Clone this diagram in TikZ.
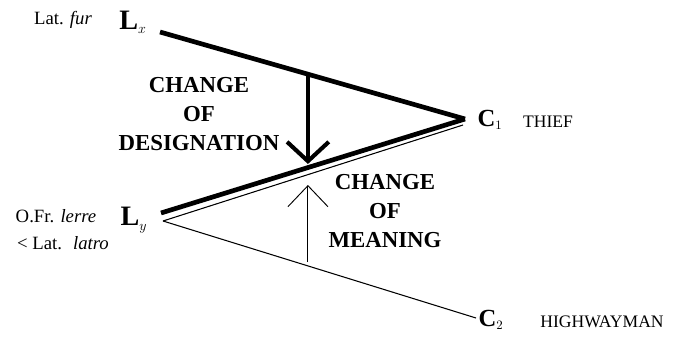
\documentclass[tikz,border=0pt]{standalone}
\usepackage{fontspec}
\setmainfont{Liberation Serif}
\usetikzlibrary{arrows.meta,positioning,calc}

\begin{document}
\begin{tikzpicture}[
  x=0.03cm, y=-0.03cm,
  lex/.style={font=\bfseries\fontsize{24}{24}\selectfont, inner sep=0pt},
  con/.style={font=\bfseries\fontsize{21}{21}\selectfont, inner sep=0pt},
  gloss/.style={font=\fontsize{16}{18}\selectfont, inner sep=0pt},
  sense/.style={font=\fontsize{15}{17}\selectfont, inner sep=0pt},
  change/.style={font=\bfseries\fontsize{19.5}{25}\selectfont, align=center, inner sep=0pt},
  heavy/.style={line width=4pt},
  light/.style={line width=0.9pt},
  desigarrow/.style={-{Straight Barb[length=0.58cm,width=1.25cm]}, line width=3.5pt},
  meanarrow/.style={-{Straight Barb[length=0.63cm,width=1.2cm]}, line width=0.8pt}
]
\useasboundingbox (0,0) rectangle (677,341);
\node[lex] (lx) at (133,22) {L$_{\scriptscriptstyle x}$};
\node[lex] (ly) at (134,220) {L$_{\scriptscriptstyle y}$};
\node[con] (c1) at (490,120) {C$_{\scriptscriptstyle 1}$};
\node[con] (c2) at (491,320) {C$_{\scriptscriptstyle 2}$};
\node[gloss] (fur) at (63,20) {Lat. \textit{fur}};
\node[gloss] (lerre) at (56,216) {O.Fr. \textit{lerre}};
\node[gloss] (latro) at (63,243) {< Lat.~ \textit{latro}};
\node[sense] (thief) at (548,122) {THIEF};
\node[sense] (hwm) at (602,322) {HIGHWAYMAN};
\node[change] (desig) at (199,114) {CHANGE\\OF\\DESIGNATION};
\node[change] (mean) at (385,211) {CHANGE\\OF\\MEANING};
% meeting points
\coordinate (apex) at (465,119);
\coordinate (apex2) at (463,125);
\coordinate (end2) at (476,318);
\coordinate (sx) at (160,32);
\coordinate (sy) at (161,213);
\coordinate (sy2) at (163,221);
\draw[heavy] (sx) -- (apex);
\draw[heavy] (sy) -- (apex);
\draw[light] (sy2) -- (apex2);
\draw[light] (sy2) -- (end2);
% arrows
\coordinate (dtop) at ($(sx)!0.485!(apex)$);
\coordinate (dbot) at (dtop |- 0,164);
\draw[desigarrow] (dtop) -- (dbot);
\coordinate (ubot) at (dtop |- 0,262);
\coordinate (utop) at (dtop |- 0,185);
\draw[meanarrow] (ubot) -- (utop);
\end{tikzpicture}
\end{document}
